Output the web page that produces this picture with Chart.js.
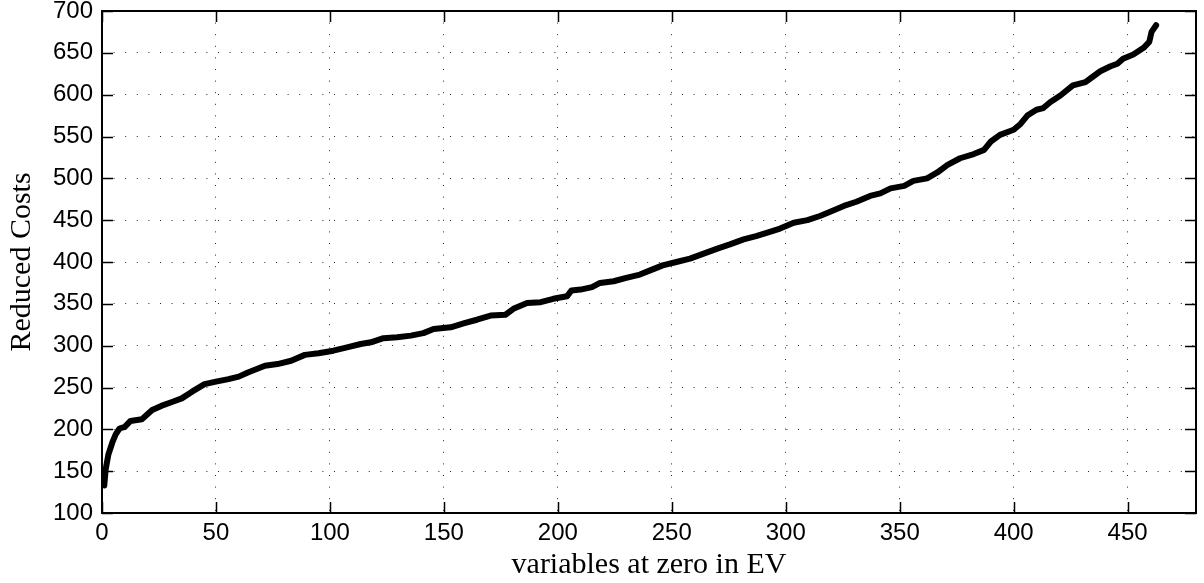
<!DOCTYPE html>
<html>
<head>
<meta charset="utf-8">
<script src="https://cdn.jsdelivr.net/npm/chart.js@4"></script>
<style>
  body { margin: 0; background: #fff; }
  #costChart { display: block; }
</style>
</head>
<body>
<canvas id="costChart" width="1204" height="583"></canvas>
<script>
// values
const variableIndex = [1, 1.6, 2.8, 4.5, 6, 7.7, 10, 12.5, 17.5, 22,
    26, 31, 35, 39.5, 45, 50, 55.5, 60, 64, 71.5,
    77, 83, 89, 95, 101.5, 107.5, 113.5, 118, 123.5, 129.5,
    135.5, 141, 145.5, 153, 159, 164.5, 170.5, 177, 180.5, 186.5,
    192.5, 198, 204, 206, 210, 215, 218.5, 224.5, 230, 236,
    240.5, 246, 252, 258, 264, 270, 275.5, 281.5, 287, 293,
    297.5, 303.5, 309.5, 315, 319.5, 325.5, 331, 337, 341.5, 346,
    352, 356, 362, 366.5, 371, 376.5, 382.5, 387, 390, 394,
    400, 403, 406, 410, 413, 416, 420.5, 426, 431.5, 433.5,
    438, 442.5, 445.5, 448, 452.5, 457, 459.5, 460.5, 462.5];
const reducedCosts = [133, 152, 170, 184, 194, 201, 203, 210, 212, 223,
    228, 233, 237, 245, 254, 257, 260, 263, 268, 276,
    278, 282, 289, 291, 294, 298, 302, 304, 309, 310,
    312, 315, 320, 322, 327, 331, 336, 337, 344, 351,
    352, 356, 359, 366, 367, 370, 375, 377, 381, 385,
    390, 396, 400, 404, 410, 416, 421, 427, 431, 436,
    440, 447, 450, 455, 460, 467, 472, 479, 482, 488,
    491, 497, 500, 507, 516, 524, 529, 534, 544, 552,
    558, 565, 575, 582, 584, 591, 599, 611, 615, 619,
    628, 634, 637, 643, 648, 656, 663, 675, 683];
const xTicks = [0, 50, 100, 150, 200, 250, 300, 350, 400, 450];
const yTicks = [100, 150, 200, 250, 300, 350, 400, 450, 500, 550, 600, 650, 700];

const points = variableIndex.map((x, i) => ({ x: x, y: reducedCosts[i] }));

// box round the axes and inward tick marks, like the original figure
const axesBox = {
    id: 'axesBox',
    afterDatasetsDraw(chart) {
        const ctx = chart.ctx;
        const a = chart.chartArea;
        const xs = chart.scales.x;
        const ys = chart.scales.y;
        const len = 11;
        ctx.save();
        ctx.strokeStyle = '#000';
        ctx.lineWidth = 1.5;
        ctx.beginPath();
        xTicks.forEach(v => {
            const px = Math.round(xs.getPixelForValue(v)) + 0.5;
            ctx.moveTo(px, a.bottom); ctx.lineTo(px, a.bottom - len);
            ctx.moveTo(px, a.top); ctx.lineTo(px, a.top + len);
        });
        yTicks.forEach(v => {
            const py = Math.round(ys.getPixelForValue(v)) + 0.5;
            ctx.moveTo(a.left, py); ctx.lineTo(a.left + len, py);
            ctx.moveTo(a.right, py); ctx.lineTo(a.right - len, py);
        });
        ctx.stroke();
        ctx.lineWidth = 2;
        ctx.strokeRect(a.left, a.top, a.right - a.left, a.bottom - a.top);
        ctx.restore();
    }
};

const ctx = document.getElementById('costChart').getContext('2d');
const costChart = new Chart(ctx, {
    type: 'line',
    data: {
        datasets: [{
            data: points,
            borderColor: '#000',
            borderWidth: 6,
            pointRadius: 0,
            tension: 0,
            borderJoinStyle: 'round',
            borderCapStyle: 'round',
            fill: false
        }]
    },
    options: {
        responsive: false,
        animation: false,
        events: [],
        layout: { padding: { top: 11, right: 8, left: 0, bottom: 0 } },
        plugins: { legend: { display: false }, tooltip: { enabled: false } },
        scales: {
            x: {
                type: 'linear',
                min: 0,
                max: 480,
                afterBuildTicks: scale => { scale.ticks = xTicks.map(v => ({ value: v })); },
                afterFit: scale => {
                    scale.height = 70;
                    scale.paddingLeft = 0;
                    scale.paddingRight = 0;
                },
                ticks: {
                    color: '#000',
                    padding: 6,
                    maxRotation: 0,
                    font: { family: '"Liberation Sans", Arial, sans-serif', size: 24 }
                },
                grid: { color: 'rgba(0,0,0,0.85)', lineWidth: 1, drawTicks: false },
                border: { display: false, dash: [1, 10.6] },
                title: {
                    display: true,
                    text: 'variables at zero in EV',
                    color: '#000',
                    padding: { top: 0, bottom: 0 },
                    font: { family: '"Liberation Serif", "Times New Roman", serif', size: 30 }
                }
            },
            y: {
                type: 'linear',
                min: 100,
                max: 700,
                afterBuildTicks: scale => { scale.ticks = yTicks.map(v => ({ value: v })); },
                afterFit: scale => {
                    scale.width = 102;
                    scale.paddingTop = 0;
                    scale.paddingBottom = 0;
                },
                ticks: {
                    color: '#000',
                    padding: 9,
                    font: { family: '"Liberation Sans", Arial, sans-serif', size: 24 }
                },
                grid: { color: 'rgba(0,0,0,0.85)', lineWidth: 1, drawTicks: false },
                border: { display: false, dash: [1, 10.6] },
                title: {
                    display: true,
                    text: 'Reduced Costs',
                    color: '#000',
                    padding: { top: 4, bottom: 0 },
                    font: { family: '"Liberation Serif", "Times New Roman", serif', size: 30 }
                }
            }
        }
    },
    plugins: [axesBox]
});
</script>
</body>
</html>
